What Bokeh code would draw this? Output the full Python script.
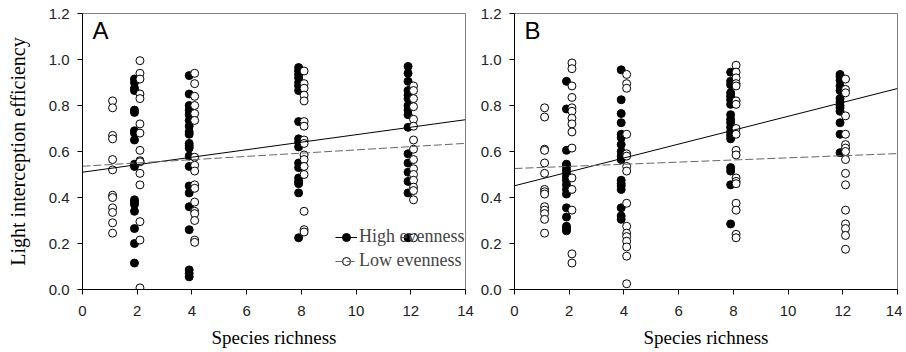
from bokeh.plotting import figure
from bokeh.layouts import row
from bokeh.models import (Legend, LegendItem, Label, Range1d, FixedTicker,
                          PrintfTickFormatter, ColumnDataSource)
from bokeh.embed import file_html
from bokeh.resources import INLINE

# ---------------- data ----------------
richness = [1, 2, 4, 8, 12]
x_ticks = [0, 2, 4, 6, 8, 10, 12, 14]
y_ticks = [0.0, 0.2, 0.4, 0.6, 0.8, 1.0, 1.2]
dodge_high = -0.1
dodge_low = 0.1

# Panel A
A_high = {
    2: [0.915, 0.90, 0.875, 0.865, 0.78, 0.77, 0.69, 0.68, 0.65, 0.545, 0.535,
        0.39, 0.38, 0.37, 0.34, 0.265, 0.20, 0.115],
    4: [0.93, 0.85, 0.80, 0.78, 0.76, 0.735, 0.71, 0.685, 0.675, 0.635, 0.625,
        0.615, 0.58, 0.535, 0.45, 0.42, 0.36, 0.26, 0.085, 0.07, 0.055],
    8: [0.965, 0.95, 0.935, 0.92, 0.90, 0.885, 0.865, 0.73, 0.655, 0.64, 0.62,
        0.55, 0.53, 0.485, 0.47, 0.46, 0.42, 0.225],
    12: [0.97, 0.94, 0.905, 0.865, 0.845, 0.83, 0.80, 0.78, 0.76, 0.705, 0.59,
         0.55, 0.51, 0.47, 0.42, 0.225],
}
A_low = {
    1: [0.82, 0.79, 0.67, 0.655, 0.565, 0.52, 0.41, 0.40, 0.355, 0.335, 0.29, 0.245],
    2: [0.995, 0.94, 0.915, 0.85, 0.83, 0.72, 0.68, 0.605, 0.56, 0.555, 0.505,
        0.455, 0.295, 0.215, 0.007],
    4: [0.94, 0.895, 0.84, 0.80, 0.765, 0.735, 0.575, 0.54, 0.515, 0.455, 0.44,
        0.38, 0.34, 0.33, 0.30, 0.215, 0.205],
    8: [0.95, 0.895, 0.875, 0.845, 0.82, 0.73, 0.71, 0.65, 0.635, 0.585, 0.565,
        0.535, 0.50, 0.34, 0.26, 0.25],
    12: [0.885, 0.865, 0.83, 0.795, 0.74, 0.71, 0.65, 0.61, 0.565, 0.525, 0.50,
         0.475, 0.445, 0.43, 0.39, 0.225],
}
A_high_fit = (0.51, 0.0163)   # intercept, slope
A_low_fit = (0.536, 0.0071)

# Panel B
B_high = {
    2: [0.905, 0.785, 0.605, 0.545, 0.535, 0.52, 0.505, 0.49, 0.475, 0.455,
        0.435, 0.415, 0.355, 0.315, 0.275, 0.265, 0.255],
    4: [0.955, 0.825, 0.765, 0.725, 0.675, 0.66, 0.63, 0.60, 0.58, 0.565,
        0.475, 0.46, 0.45, 0.435, 0.355, 0.32, 0.305],
    8: [0.945, 0.905, 0.89, 0.855, 0.84, 0.825, 0.805, 0.76, 0.74, 0.725,
        0.705, 0.685, 0.67, 0.655, 0.53, 0.515, 0.455, 0.285],
    12: [0.935, 0.925, 0.91, 0.885, 0.865, 0.83, 0.815, 0.80, 0.79, 0.775,
         0.725, 0.675, 0.595],
}
B_low = {
    1: [0.79, 0.75, 0.61, 0.605, 0.55, 0.505, 0.435, 0.425, 0.415, 0.36, 0.345,
        0.33, 0.305, 0.245],
    2: [0.985, 0.96, 0.885, 0.835, 0.79, 0.775, 0.745, 0.72, 0.685, 0.615,
        0.485, 0.435, 0.345, 0.155, 0.115],
    4: [0.935, 0.895, 0.875, 0.675, 0.59, 0.58, 0.535, 0.515, 0.375, 0.275,
        0.245, 0.23, 0.21, 0.185, 0.145, 0.025],
    8: [0.975, 0.945, 0.92, 0.895, 0.885, 0.82, 0.805, 0.70, 0.675, 0.605,
        0.585, 0.485, 0.47, 0.46, 0.375, 0.345, 0.24, 0.225],
    12: [0.915, 0.87, 0.855, 0.755, 0.675, 0.63, 0.615, 0.60, 0.565, 0.505,
         0.455, 0.345, 0.285, 0.265, 0.235, 0.175],
}
B_high_fit = (0.451, 0.0302)
B_low_fit = (0.526, 0.00464)

SERIF = "Liberation Serif"
SANS = "Liberation Sans"


def flatten(groups, dodge):
    xs, ys = [], []
    for r in richness:
        for v in groups.get(r, []):
            xs.append(r + dodge)
            ys.append(v)
    return ColumnDataSource(dict(x=xs, y=ys))


def make_panel(letter, high, low, high_fit, low_fit, ylabel, border_left,
               border_right, border_top, legend):
    p = figure(frame_width=383, frame_height=276, output_backend="svg",
               toolbar_location=None, x_range=Range1d(0, 14),
               y_range=Range1d(0, 1.2), min_border_left=border_left,
               min_border_right=border_right, min_border_top=border_top,
               min_border_bottom=60)
    p.xgrid.visible = False
    p.ygrid.visible = False
    p.outline_line_color = "#808080"
    p.background_fill_color = "white"
    p.border_fill_color = "white"

    for ax in (p.xaxis[0], p.yaxis[0]):
        ax.major_tick_in = 0
        ax.major_tick_out = 5
        ax.minor_tick_line_color = None
        ax.axis_line_color = "black"
        ax.major_tick_line_color = "black"
        ax.major_label_text_font = SANS
        ax.major_label_text_font_size = "15px"
        ax.major_label_text_color = "#222222"
        ax.axis_label_text_font = SERIF
        ax.axis_label_text_font_style = "normal"
        ax.axis_label_text_color = "black"
    p.xaxis.ticker = FixedTicker(ticks=x_ticks)
    p.yaxis.ticker = FixedTicker(ticks=y_ticks)
    p.yaxis.formatter = PrintfTickFormatter(format="%.1f")
    p.xaxis.major_label_standoff = 11
    p.yaxis.major_label_standoff = 8
    p.xaxis.axis_label = "Species richness"
    p.xaxis.axis_label_text_font_size = "19px"
    p.xaxis.axis_label_standoff = 8
    if ylabel:
        p.yaxis.axis_label = ylabel
        p.yaxis.axis_label_text_font_size = "20px"
        p.yaxis.axis_label_standoff = 17

    sh = p.scatter("x", "y", source=flatten(high, dodge_high), size=8,
                   marker="circle", fill_color="black", line_color="black",
                   line_width=1)
    sl = p.scatter("x", "y", source=flatten(low, dodge_low), size=8,
                   marker="circle", fill_color="white", line_color="black",
                   line_width=1)

    xl = [p.x_range.start, p.x_range.end]
    lh = p.line(xl, [high_fit[0] + high_fit[1] * x for x in xl],
                line_color="black", line_width=1)
    ll = p.line(xl, [low_fit[0] + low_fit[1] * x for x in xl],
                line_color="#666666", line_width=1, line_dash="8 3")

    p.add_layout(Label(x=0.37, y=1.185, text=letter, text_font=SANS,
                       text_font_size="24px", text_baseline="top",
                       text_color="black"))

    if legend:
        lg = Legend(items=[LegendItem(label="High evenness", renderers=[sh, lh]),
                           LegendItem(label="Low evenness", renderers=[sl, ll])],
                    location=(253, 18))
        lg.label_text_font = SERIF
        lg.label_text_font_size = "18px"
        lg.background_fill_alpha = 0
        lg.border_line_alpha = 0
        lg.padding = 0
        lg.margin = 0
        lg.spacing = 3
        lg.glyph_width = 22
        lg.glyph_height = 20
        lg.label_height = 20
        lg.label_standoff = 2
        p.add_layout(lg)
    return p


pA = make_panel("A", A_high, A_low, A_high_fit, A_low_fit,
                "Light interception efficiency", 82, 10, 13, True)
pB = make_panel("B", B_high, B_low, B_high_fit, B_low_fit,
                None, 39, 5, 13, False)

layout = row(pA, pB)
open("out.html", "w").write(file_html(layout, INLINE))
